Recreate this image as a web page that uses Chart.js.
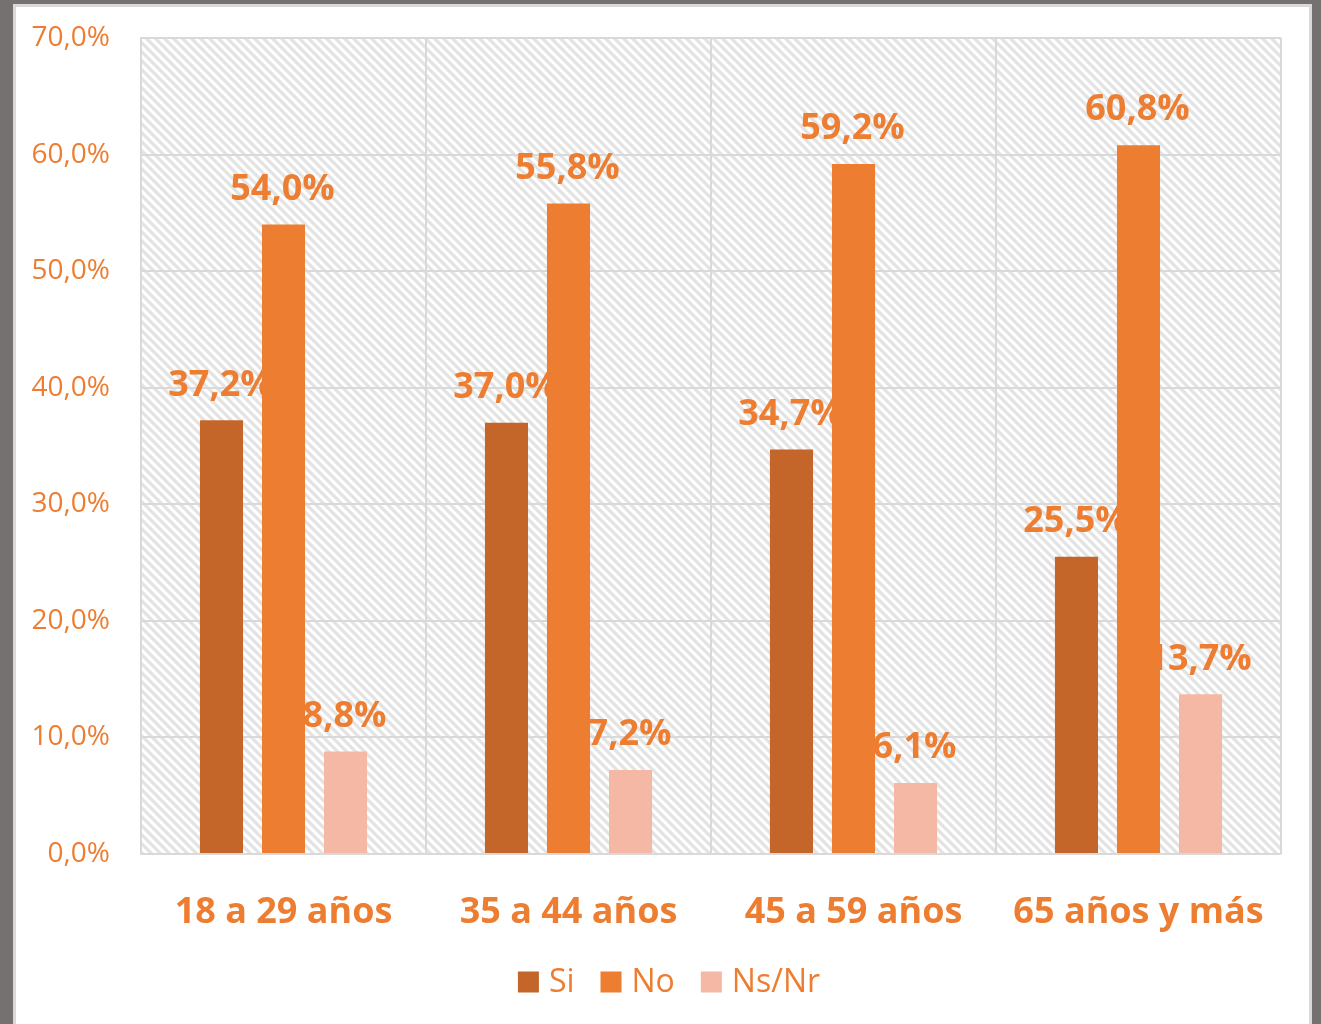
<!DOCTYPE html>
<html>
<head>
<meta charset="utf-8">
<script src="https://cdn.jsdelivr.net/npm/chart.js@4/dist/chart.umd.min.js"></script>
<style>
  html, body { margin:0; padding:0; width:1321px; height:1024px; overflow:hidden; background:#757171; }
  #frame { position:absolute; left:13px; top:4px; width:1299px; height:1040px; box-sizing:border-box;
           border:3px solid #d9d9d9; border-bottom:none; background:#ffffff; }
  #wrap { position:absolute; left:0; top:0; width:1321px; height:1024px; }
</style>
</head>
<body>
<div id="frame"></div>
<div id="wrap"><canvas id="c" width="1321" height="1024"></canvas></div>
<script>
const categories = ["18 a 29 años", "35 a 44 años", "45 a 59 años", "65 años y más"];
const siValues   = [37.2, 37.0, 34.7, 25.5];
const noValues   = [54.0, 55.8, 59.2, 60.8];
const nsnrValues = [8.8, 7.2, 6.1, 13.7];
const seriesNames = ["Si", "No", "Ns/Nr"];
const yTicks = [0, 10, 20, 30, 40, 50, 60, 70];

const ORANGE = "#ED7D31";
const colors = ["#C4652A", "#ED7D31", "#F4B8A5"];
const FONT = "'Open Sans', sans-serif";

function fmt(v) { return v.toFixed(1).replace(".", ",") + "%"; }

function makePattern(ctx) {
  const n = 9;
  const p = document.createElement("canvas");
  p.width = n; p.height = n;
  const g = p.getContext("2d");
  g.fillStyle = "#ffffff"; g.fillRect(0, 0, n, n);
  g.strokeStyle = "#e3e3e3"; g.lineWidth = 3.2;
  g.beginPath();
  for (let k = -1; k <= 1; k++) {
    g.moveTo(k * n - 2, -2); g.lineTo(k * n + n + 2, n + 2);
  }
  g.stroke();
  return ctx.createPattern(p, "repeat");
}

const hatchPlugin = {
  id: "hatch",
  beforeDraw(chart) {
    const { ctx, chartArea: a } = chart;
    ctx.save();
    ctx.fillStyle = makePattern(ctx);
    ctx.fillRect(a.left, a.top, a.right - a.left, a.bottom - a.top);
    ctx.restore();
  }
};

const labelPlugin = {
  id: "valueLabels",
  beforeDatasetsDraw(chart) {
    const ctx = chart.ctx;
    ctx.save();
    ctx.font = "bold 36px " + FONT;
    ctx.fillStyle = ORANGE;
    ctx.textAlign = "center";
    ctx.textBaseline = "middle";
    chart.data.datasets.forEach((ds, i) => {
      const meta = chart.getDatasetMeta(i);
      meta.data.forEach((bar, j) => {
        ctx.fillText(fmt(ds.data[j]), bar.x - 1, bar.y - 35);
      });
    });
    ctx.restore();
  }
};

const legendPlugin = {
  id: "customLegend",
  afterDraw(chart) {
    const ctx = chart.ctx;
    ctx.save();
    ctx.font = "32px " + FONT;
    ctx.textBaseline = "middle";
    const box = 21, gapText = 10, gapItem = 26;
    const widths = chart.data.datasets.map(ds => box + gapText + ctx.measureText(ds.label).width);
    const total = widths.reduce((a, b) => a + b, 0) + gapItem * (widths.length - 1);
    let x = 669 - total / 2;
    const cy = 982;
    chart.data.datasets.forEach((ds, i) => {
      ctx.fillStyle = ds.backgroundColor;
      ctx.fillRect(x, cy - box / 2, box, box);
      ctx.fillStyle = ORANGE;
      ctx.fillText(ds.label, x + box + gapText, cy + 1);
      x += widths[i] + gapItem;
    });
    ctx.restore();
  }
};

new Chart(document.getElementById("c"), {
  type: "bar",
  data: {
    labels: categories,
    datasets: [
      { label: seriesNames[0], data: siValues, backgroundColor: colors[0] },
      { label: seriesNames[1], data: noValues, backgroundColor: colors[1] },
      { label: seriesNames[2], data: nsnrValues, backgroundColor: colors[2] }
    ]
  },
  options: {
    responsive: false,
    animation: false,
    devicePixelRatio: 1,
    categoryPercentage: 0.653,
    barPercentage: 0.694,
    layout: { padding: { left: 0, top: 38, right: 40, bottom: 0 } },
    plugins: { legend: { display: false }, tooltip: { enabled: false } },
    scales: {
      x: {
        grid: { display: true, offset: true, color: "#d9d9d9", lineWidth: 2, drawTicks: false },
        border: { display: false },
        ticks: { color: ORANGE, font: { family: FONT, size: 36, weight: "bold" }, padding: 37, maxRotation: 0 },
        afterFit(s) { s.height = 1024 - 854; s.paddingLeft = 0; s.paddingRight = 0; }
      },
      y: {
        min: 0, max: 70,
        afterBuildTicks(s) { s.ticks = yTicks.map(v => ({ value: v })); },
        grid: { color: "#d9d9d9", lineWidth: 2, drawTicks: false },
        border: { display: true, color: "#d9d9d9", width: 2 },
        ticks: { color: ORANGE, font: { family: FONT, size: 28 }, padding: 31, callback: v => fmt(v) },
        afterFit(s) { s.width = 141; s.paddingTop = 0; s.paddingBottom = 0; }
      }
    }
  },
  plugins: [hatchPlugin, labelPlugin, legendPlugin]
});
</script>
</body>
</html>
